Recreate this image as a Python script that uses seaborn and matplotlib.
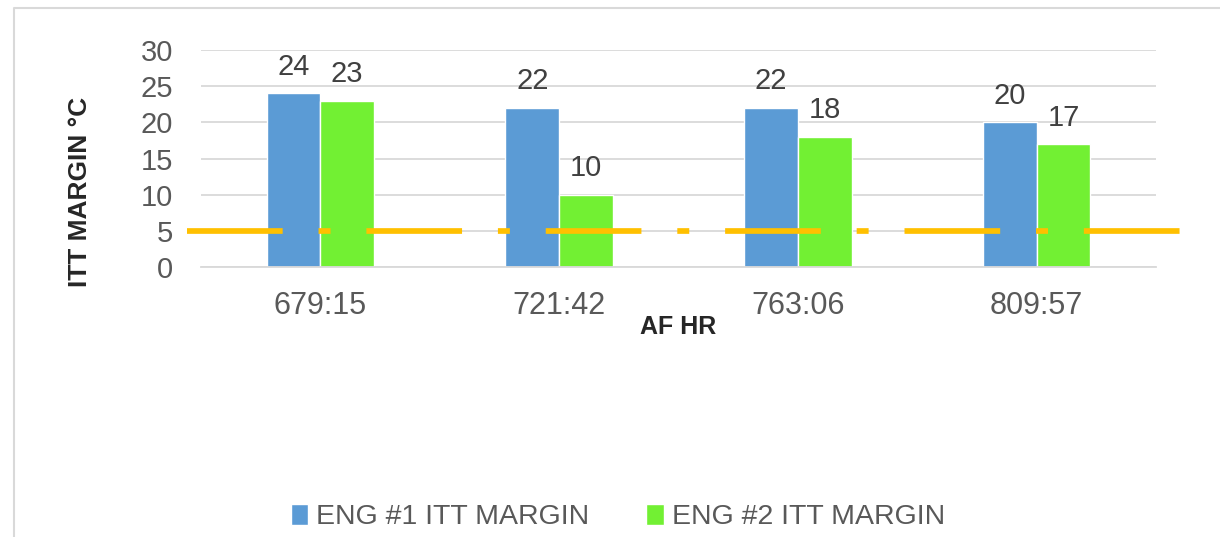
import numpy as np
import pandas as pd
import matplotlib
matplotlib.use('Agg')
import matplotlib.pyplot as plt
import matplotlib.transforms as mtransforms
from matplotlib.lines import Line2D
import seaborn as sns

# --- dados ---
af_hr = ['679:15', '721:42', '763:06', '809:57']
eng1_margin = [24, 22, 22, 20]
eng2_margin = [23, 10, 18, 17]
nomes_series = ['ENG #1 ITT MARGIN', 'ENG #2 ITT MARGIN']
limite_itt = 5
y_ticks = [0, 5, 10, 15, 20, 25, 30]

df = pd.DataFrame({
    'AF HR': af_hr * 2,
    'margem': eng1_margin + eng2_margin,
    'serie': [nomes_series[0]] * len(af_hr) + [nomes_series[1]] * len(af_hr),
})

azul = '#5B9BD5'
verde = '#72F033'
laranja = '#FFC000'
cinza_grade = '#D9D9D9'
cinza_texto = '#595959'

sns.set_style('white')
plt.rcParams['font.family'] = ['Liberation Sans', 'DejaVu Sans']

W, H = 1220, 537
fig = plt.figure(figsize=(W / 100, H / 100), dpi=100)
ax = fig.add_axes([201 / W, 1 - 267 / H, 955 / W, 217 / H])

sns.barplot(data=df, x='AF HR', y='margem', hue='serie',
            palette=[azul, verde], width=0.45, gap=0, saturation=1, ax=ax)

# rotulos de valor
for cont in ax.containers:
    ax.bar_label(cont, fontsize=21, color='#404040', padding=9)

# linha de limite (tracejado longo-ponto, passa das bordas do eixo)
trans = mtransforms.blended_transform_factory(ax.transAxes, ax.transData)
ax.plot([-0.015, 1.029], [limite_itt, limite_itt], transform=trans,
        color=laranja, lw=4.1, clip_on=False, dash_capstyle='butt',
        dashes=(16.8, 6.3, 2.1, 6.3), zorder=4)

# eixos
ax.set_xlim(-0.5, len(af_hr) - 0.5)
ax.set_ylim(0, 30)
ax.set_yticks(y_ticks)
ax.yaxis.grid(True, color=cinza_grade, lw=1.3)
ax.set_axisbelow(True)
for lado in ['top', 'right', 'left']:
    ax.spines[lado].set_visible(False)
ax.spines['bottom'].set_color(cinza_grade)
ax.spines['bottom'].set_linewidth(1.3)

ax.set_xticks(np.arange(-0.5, len(af_hr), 1), minor=True)
ax.tick_params(axis='x', which='major', length=0, pad=17, labelsize=22, labelcolor=cinza_texto)
ax.tick_params(axis='x', which='minor', length=7, width=1.3, color=cinza_grade)
ax.tick_params(axis='y', length=0, pad=20, labelsize=21, labelcolor=cinza_texto)

ax.set_xlabel('AF HR', fontsize=18, fontweight='bold', color='#262626')
ax.xaxis.set_label_coords(0.5, -0.22)
ax.set_ylabel('ITT MARGIN °C', fontsize=19, fontweight='bold', color='#262626')
ax.yaxis.set_label_coords(-0.114, 0.348)

# legenda embaixo
handles, labels = ax.get_legend_handles_labels()
ax.get_legend().remove()
fig.legend(handles, labels, loc='center', bbox_to_anchor=(618 / W, 1 - 517 / H),
           ncol=2, frameon=False, prop={'size': 20.5},
           handlelength=0.61, handleheight=0.79, handletextpad=0.28,
           columnspacing=2.0, labelcolor=cinza_texto)

# borda da area do grafico
fig.add_artist(Line2D([14 / W, 14 / W, 1], [0, 1 - 8 / H, 1 - 8 / H],
                      transform=fig.transFigure, color=cinza_grade, lw=1.5))

fig.savefig('out.png', dpi=100)
print("out.png salvo")
